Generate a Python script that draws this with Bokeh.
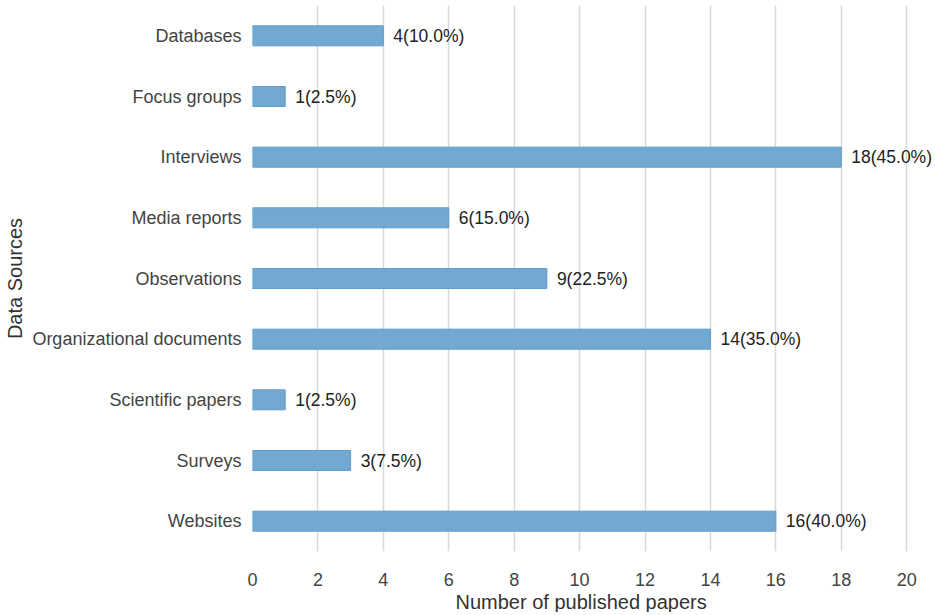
from bokeh.plotting import figure
from bokeh.models import ColumnDataSource, Range1d, FactorRange, LabelSet, SingleIntervalTicker, Title
from bokeh.core.properties import value
from bokeh.embed import file_html
from bokeh.resources import INLINE

categories = ["Databases", "Focus groups", "Interviews", "Media reports", "Observations",
              "Organizational documents", "Scientific papers", "Surveys", "Websites"]
counts = [4, 1, 18, 6, 9, 14, 1, 3, 16]
percents = [10.0, 2.5, 45.0, 15.0, 22.5, 35.0, 2.5, 7.5, 40.0]
labels = [f"{c}({p:.1f}%)" for c, p in zip(counts, percents)]

src = ColumnDataSource(dict(cat=categories, val=counts, lab=labels))

FONT = "Liberation Sans"
p = figure(width=934, height=612, output_backend="svg", toolbar_location=None,
           y_range=FactorRange(*reversed(categories), range_padding=0),
           x_range=Range1d(0, 20.85),
           min_border_left=252, min_border_right=0, min_border_top=5, min_border_bottom=0)
p.y_range.factor_padding = 0
p.hbar(y="cat", right="val", left=0, height=0.33, source=src,
       fill_color="#73a9d0", line_color="#5f9cca", line_width=1)

p.add_layout(LabelSet(x="val", y="cat", text="lab", source=src, x_offset=10,
                      text_baseline="middle", text_align="left",
                      text_font=value(FONT), text_font_size="17.5px", text_color="#222222"))

p.outline_line_color = None
p.ygrid.grid_line_color = None
p.xgrid.grid_line_color = "#d9d9d9"
p.xgrid.grid_line_width = 1.5
p.xaxis.ticker = SingleIntervalTicker(interval=2)
p.xaxis.axis_line_color = None
p.yaxis.axis_line_color = None
for ax in (p.xaxis[0], p.yaxis[0]):
    ax.major_tick_line_color = None
    ax.minor_tick_line_color = None
    ax.major_label_text_font = FONT
    ax.major_label_text_font_size = "18px"
    ax.major_label_text_color = "#444444"
    ax.axis_label_text_font = FONT
    ax.axis_label_text_font_size = "20px"
    ax.axis_label_text_color = "#333333"
    ax.axis_label_text_font_style = "normal"
p.yaxis.axis_label = "Data Sources"
p.xaxis.major_label_standoff = 15
p.yaxis.major_label_standoff = 5
p.yaxis.axis_label_standoff = 3

p.add_layout(Title(text="Number of published papers", align="left", offset=203,
                   text_font=FONT, text_font_size="20px", text_font_style="normal",
                   text_color="#333333", standoff=0), "below")

open("out.html", "w").write(file_html(p, INLINE))
